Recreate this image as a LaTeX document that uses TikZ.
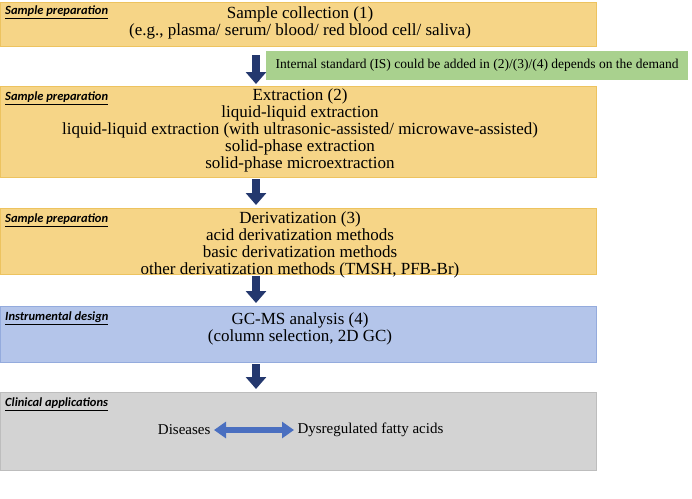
\documentclass[tikz,border=0pt]{standalone}
\usepackage{fontspec}
\setmainfont{Liberation Serif}
\newfontfamily\lab{Carlito}
\usetikzlibrary{arrows.meta}
\definecolor{yel}{HTML}{F6D587}
\definecolor{yelb}{HTML}{EDC35F}
\definecolor{blu}{HTML}{B4C5EA}
\definecolor{blub}{HTML}{94ABDD}
\definecolor{gry}{HTML}{D3D3D3}
\definecolor{gryb}{HTML}{BDBDBD}
\definecolor{grn}{HTML}{A9D18E}
\definecolor{arr}{HTML}{24386E}
\definecolor{lra}{HTML}{4A6FC0}
\begin{document}
\begin{tikzpicture}[x=1pt,y=-1pt,
  lbl/.style={anchor=north west,font=\lab\bfseries\itshape\fontsize{12.5}{14}\selectfont,inner sep=0pt},
  txt/.style={align=center,font=\fontsize{17}{17}\selectfont,anchor=north,inner sep=0pt},
  down/.style={-{Triangle[width=20pt,length=12pt]},line width=8pt,arr},
  lr/.style={{Triangle[width=16pt,length=12pt]}-{Triangle[width=16pt,length=12pt]},line width=6pt,lra}]
\useasboundingbox (0,0) rectangle (692,498);
\fill[yel,draw=yelb] (0,2) rectangle (596,46);
\fill[yel,draw=yelb] (0,86) rectangle (596,177);
\fill[yel,draw=yelb] (0,208) rectangle (596,274);
\fill[blu,draw=blub] (0,306) rectangle (596,362);
\fill[gry,draw=gryb] (0,392) rectangle (596,470);
\node[lbl] (l1) at (5,6) {\underline{Sample preparation}};
\node[lbl] (l2) at (5,92) {\underline{Sample preparation}};
\node[lbl] (l3) at (5,214) {\underline{Sample preparation}};
\node[lbl] (l4) at (5,312) {\underline{Instrumental design}};
\node[lbl] (l5) at (5,398) {\underline{Clinical applications}};
\node[txt] (t1) at (300,7) {Sample collection (1)\\(e.g., plasma/ serum/ blood/ red blood cell/ saliva)};
\node[txt] (t2) at (300,89) {Extraction (2)\\liquid-liquid extraction\\liquid-liquid extraction (with ultrasonic-assisted/ microwave-assisted)\\solid-phase extraction\\solid-phase microextraction};
\node[txt] (t3) at (300,211) {Derivatization (3)\\acid derivatization methods\\basic derivatization methods\\other derivatization methods (TMSH, PFB-Br)};
\node[txt] (t4) at (300,312) {GC-MS analysis (4)\\(column selection, 2D GC)};
\node[fill=grn,minimum width=422pt,minimum height=29pt,font=\fontsize{13.5}{15}\selectfont,inner sep=0pt] (g) at (477,65) {Internal standard (IS) could be added in (2)/(3)/(4) depends on the demand};
\coordinate (a1) at (256,55); \coordinate (b1) at (256,84);
\coordinate (a2) at (256,179); \coordinate (b2) at (256,205);
\coordinate (a3) at (256,276); \coordinate (b3) at (256,303);
\coordinate (a4) at (256,364); \coordinate (b4) at (256,389);
\draw[down] (a1) -- (b1);
\draw[down] (a2) -- (b2);
\draw[down] (a3) -- (b3);
\draw[down] (a4) -- (b4);
\node[font=\fontsize{15}{17}\selectfont,anchor=east] (d) at (214,430) {Diseases};
\node[font=\fontsize{15}{17}\selectfont,anchor=west] (f) at (294,430) {Dysregulated fatty acids};
\draw[lr] (d) -- (f);
\end{tikzpicture}
\end{document}
